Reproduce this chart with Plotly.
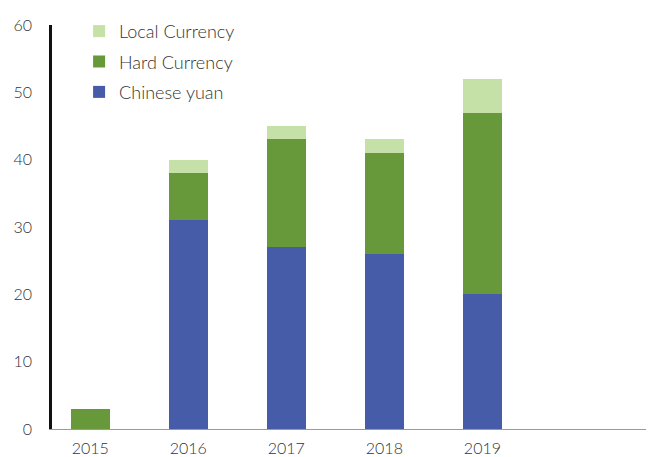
import plotly.graph_objects as go

years = ["2015", "2016", "2017", "2018", "2019"]
chinese_yuan = [0, 31, 27, 26, 20]
hard_currency = [3, 7, 16, 15, 27]
local_currency = [0, 2, 2, 2, 5]

fig = go.Figure()
fig.add_trace(go.Bar(x=years, y=chinese_yuan, name="Chinese yuan", legendrank=3,
                     marker=dict(color="#475CA8", line=dict(width=0)), legendgroup="c"))
fig.add_trace(go.Bar(x=years, y=hard_currency, name="Hard Currency", legendrank=2,
                     marker=dict(color="#67993A", line=dict(width=0)), legendgroup="h"))
fig.add_trace(go.Bar(x=years, y=local_currency, name="Local Currency", legendrank=1,
                     marker=dict(color="#C6E1A7", line=dict(width=0)), legendgroup="l"))

# page body has an 8px default margin, so the figure is sized/offset to compensate
fig.update_layout(
    barmode="stack",
    bargap=0.6,
    width=646, height=449,
    margin=dict(l=44, r=0, t=17, b=28),
    paper_bgcolor="white", plot_bgcolor="white",
    font=dict(family="Lato, Open Sans, sans-serif", color="#333333", size=15, weight=300),
    legend=dict(x=0.045, y=1.03, xanchor="left", yanchor="top",
                traceorder="grouped", tracegroupgap=4,
                font=dict(size=18, color="#333333", weight=300), bgcolor="rgba(0,0,0,0)"),
    xaxis=dict(type="category", range=[-0.39, 5.75], showgrid=False, automargin=False,
               showline=True, linecolor="#9a9a9a", linewidth=1,
               ticks="", ticklabelstandoff=5, tickfont=dict(size=16, weight=300)),
    yaxis=dict(range=[0, 60], dtick=10, showgrid=False, zeroline=False, automargin=False,
               showline=True, linecolor="#111111", linewidth=2.5,
               ticks="", ticklabelstandoff=14, tickfont=dict(size=16, weight=300)),
)

fig.write_html("out.html")
